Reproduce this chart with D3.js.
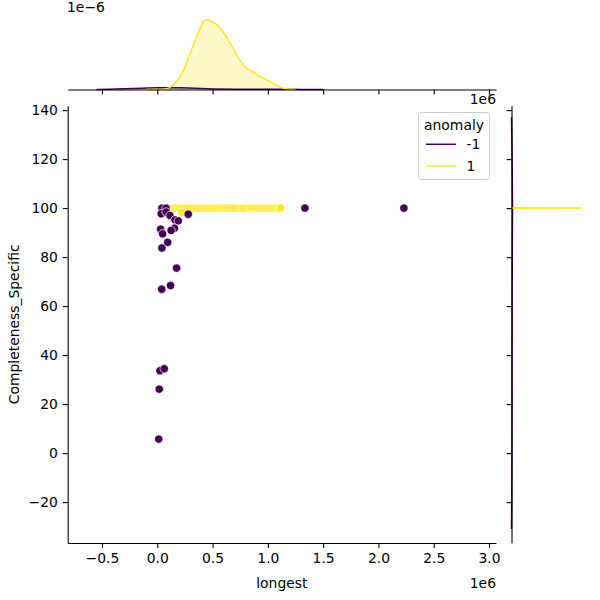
<!DOCTYPE html>
<html>
<head>
<meta charset="utf-8">
<script src="https://cdn.jsdelivr.net/npm/d3@7"></script>
<style>
  body { margin: 0; background: #fff; }
  svg { font-family: "DejaVu Sans", sans-serif; }
</style>
</head>
<body>
<svg width="600" height="600"></svg>
<script>
// hue levels
const anomalyLevels = ["-1", "1"]
const anomalyColors = ["#440154", "#fde725"]

// scatter: [longest (1e6), Completeness_Specific]
const normalPoints = [
    [0.060, 100], [0.088, 100], [0.110, 100], [0.133, 100], [0.155, 100], [0.178, 100],
    [0.200, 100], [0.223, 100], [0.245, 100], [0.269, 100], [0.295, 100], [0.323, 100],
    [0.350, 100], [0.377, 100], [0.400, 100], [0.422, 100], [0.445, 100], [0.467, 100],
    [0.495, 100], [0.521, 100], [0.545, 100], [0.567, 100], [0.595, 100], [0.621, 100],
    [0.650, 100], [0.675, 100], [0.700, 100], [0.730, 100], [0.755, 100], [0.775, 100],
    [0.800, 100], [0.829, 100], [0.850, 100], [0.874, 100], [0.900, 100], [0.929, 100],
    [0.950, 100], [0.974, 100], [1.000, 100], [1.028, 100], [1.050, 100], [1.073, 100],
    [1.100, 100], [1.115, 100], [0.220, 98.2]
]
const anomalyPoints = [
    [0.042, 100], [0.079, 100], [0.035, 97.7], [0.080, 98.4], [0.115, 97.0],
    [0.160, 95.2], [0.190, 94.8], [0.280, 97.5], [0.155, 91.8], [0.125, 90.9],
    [0.030, 91.4], [0.048, 89.5], [0.094, 86.0], [0.042, 83.7], [0.175, 75.5],
    [0.040, 66.9], [0.120, 68.4], [0.024, 33.6], [0.063, 34.4], [0.018, 26.1],
    [0.013, 5.7], [1.335, 100], [2.230, 100]
]

// marginal KDE of longest: [longest (1e6), density (1e-6)]
const kdeLongestNormal = [
    [-0.10, 0], [0.05, 0.002], [0.10, 0.01], [0.17, 0.15], [0.235, 0.425], [0.28, 0.75],
    [0.325, 1.07], [0.386, 1.47], [0.416, 1.645], [0.452, 1.70], [0.50, 1.62],
    [0.55, 1.55], [0.59, 1.41], [0.657, 1.15], [0.748, 0.666], [0.808, 0.49],
    [0.868, 0.425], [0.929, 0.304], [1.019, 0.20], [1.08, 0.104], [1.139, 0.01], [1.25, 0]
]
const kdeLongestAnomaly = [
    [-0.55, 0], [-0.45, 0.006], [-0.30, 0.016], [-0.15, 0.03], [0.00, 0.042], [0.10, 0.046],
    [0.20, 0.042], [0.35, 0.028], [0.50, 0.014], [0.70, 0.006], [0.90, 0.004], [1.10, 0.004],
    [1.30, 0.003], [1.50, 0]
]

// marginal KDE of Completeness_Specific: [value, density (relative)]
const kdeCompNormal = [[99.9, 0], [100, 100], [100.1, 0]]
const kdeCompAnomaly = [
    [-31, 0], [-20, 0.3], [0, 0.6], [20, 0.7], [40, 0.8], [60, 0.9], [80, 1.1],
    [100, 1.4], [120, 0.9], [137, 0]
]

// ticks
const xTicks = [-0.5, 0, 0.5, 1.0, 1.5, 2.0, 2.5, 3.0]
const xTickLabels = ["\u22120.5", "0.0", "0.5", "1.0", "1.5", "2.0", "2.5", "3.0"]
const yTicks = [-20, 0, 20, 40, 60, 80, 100, 120, 140]
const yTickLabels = ["\u221220", "0", "20", "40", "60", "80", "100", "120", "140"]

const svg = d3.select("svg")
const FS = 13.9
const TICK = 4.9

const xScale = d3.scaleLinear().domain([-0.810, 3.063]).range([67.7, 496])
const yScale = d3.scaleLinear().domain([-36.7, 141.8]).range([543, 105.7])
const margXScale = d3.scaleLinear().domain([0, 1.8]).range([89.5, 14.7])
const margYScale = d3.scaleLinear().domain([0, 105]).range([511.5, 586])
const colorScale = d3.scaleOrdinal().domain(anomalyLevels).range(anomalyColors)

// ---- top marginal
const topArea = d3.area()
    .x(d => xScale(d[0]))
    .y0(margXScale(0))
    .y1(d => margXScale(d[1]))
    .curve(d3.curveBasis)

const topKdes = [["-1", kdeLongestAnomaly], ["1", kdeLongestNormal]]
topKdes.forEach(([lvl, pts]) => {
    svg.append("path")
        .attr("d", topArea(pts))
        .style("fill", colorScale(lvl))
        .style("fill-opacity", 0.25)
        .style("stroke", "none")
})
topKdes.forEach(([lvl, pts]) => {
    svg.append("path")
        .attr("d", topArea.lineY1()(pts))
        .style("fill", "none")
        .style("stroke", colorScale(lvl))
        .style("stroke-width", "1.5px")
})

svg.append("g")
    .attr("transform", `translate(0,${margXScale(0)})`)
    .call(d3.axisBottom(xScale).tickValues(xTicks).tickFormat("").tickSize(TICK).tickSizeOuter(0))

svg.append("text")
    .attr("x", 67)
    .attr("y", 12)
    .style("font-size", FS + "px")
    .text("1e\u22126")

// ---- right marginal
const rightArea = d3.area()
    .y(d => yScale(d[0]))
    .x0(margYScale(0))
    .x1(d => margYScale(d[1]))
    .curve(d3.curveLinear)

const rightKdes = [["-1", kdeCompAnomaly], ["1", kdeCompNormal]]
rightKdes.forEach(([lvl, pts]) => {
    svg.append("path")
        .attr("d", rightArea(pts))
        .style("fill", colorScale(lvl))
        .style("fill-opacity", 0.25)
        .style("stroke", "none")
})
rightKdes.forEach(([lvl, pts]) => {
    svg.append("path")
        .attr("d", rightArea.lineX1()(pts))
        .style("fill", "none")
        .style("stroke", colorScale(lvl))
        .style("stroke-width", "1.5px")
})

svg.append("g")
    .attr("transform", `translate(${margYScale(0)},0)`)
    .call(d3.axisLeft(yScale).tickValues(yTicks).tickFormat("").tickSize(TICK).tickSizeOuter(0))

// ---- joint scatter
const scatterSets = [["1", normalPoints], ["-1", anomalyPoints]]
scatterSets.forEach(([lvl, pts]) => {
    svg.append("g")
        .selectAll("circle")
        .data(pts)
        .enter()
        .append("circle")
        .attr("cx", d => xScale(d[0]))
        .attr("cy", d => yScale(d[1]))
        .attr("r", 4.2)
        .style("fill", colorScale(lvl))
        .style("stroke", "white")
        .style("stroke-width", 0.7)
})

// axes
svg.append("g")
    .attr("transform", `translate(0,${yScale.range()[0]})`)
    .call(d3.axisBottom(xScale).tickValues(xTicks).tickFormat((d, i) => xTickLabels[i])
        .tickSize(TICK).tickPadding(4.9).tickSizeOuter(0))

svg.append("g")
    .attr("transform", `translate(${xScale.range()[0]},0)`)
    .call(d3.axisLeft(yScale).tickValues(yTicks).tickFormat((d, i) => yTickLabels[i])
        .tickSize(TICK).tickPadding(4.9).tickSizeOuter(0))

svg.selectAll(".tick text")
    .style("font-size", FS + "px")
    .style("font-family", "DejaVu Sans")
    .style("fill", "black")
svg.selectAll(".domain, .tick line")
    .style("stroke", "black")
    .style("stroke-width", "1.1px")

// axis labels
svg.append("text")
    .attr("x", (xScale.range()[0] + xScale.range()[1]) / 2)
    .attr("y", 588)
    .style("text-anchor", "middle")
    .style("font-size", FS + "px")
    .text("longest")

svg.append("text")
    .attr("x", 496)
    .attr("y", 588)
    .style("text-anchor", "end")
    .style("font-size", FS + "px")
    .text("1e6")

svg.append("text")
    .attr("x", 496)
    .attr("y", 104)
    .style("text-anchor", "end")
    .style("font-size", FS + "px")
    .text("1e6")

svg.append("text")
    .attr("transform", `translate(19,${(yScale.range()[0] + yScale.range()[1]) / 2}) rotate(-90)`)
    .style("text-anchor", "middle")
    .style("font-size", FS + "px")
    .text("Completeness_Specific")

// legend
const legend = svg.append("g").attr("transform", "translate(418.5,112.5)")
legend.append("rect")
    .attr("width", 71)
    .attr("height", 67)
    .attr("rx", 3)
    .style("fill", "white")
    .style("fill-opacity", 0.8)
    .style("stroke", "#cccccc")
    .style("stroke-width", 1)
legend.append("text")
    .attr("x", 35.5)
    .attr("y", 17.5)
    .style("text-anchor", "middle")
    .style("font-size", FS + "px")
    .text("anomaly")
anomalyLevels.forEach((lvl, i) => {
    const yy = 31.8 + i * 21.7
    legend.append("line")
        .attr("x1", 7.5)
        .attr("x2", 37.5)
        .attr("y1", yy)
        .attr("y2", yy)
        .style("stroke", colorScale(lvl))
        .style("stroke-width", "1.5px")
    legend.append("text")
        .attr("x", 48)
        .attr("y", yy + 5)
        .style("font-size", FS + "px")
        .text(lvl)
})
</script>
</body>
</html>
